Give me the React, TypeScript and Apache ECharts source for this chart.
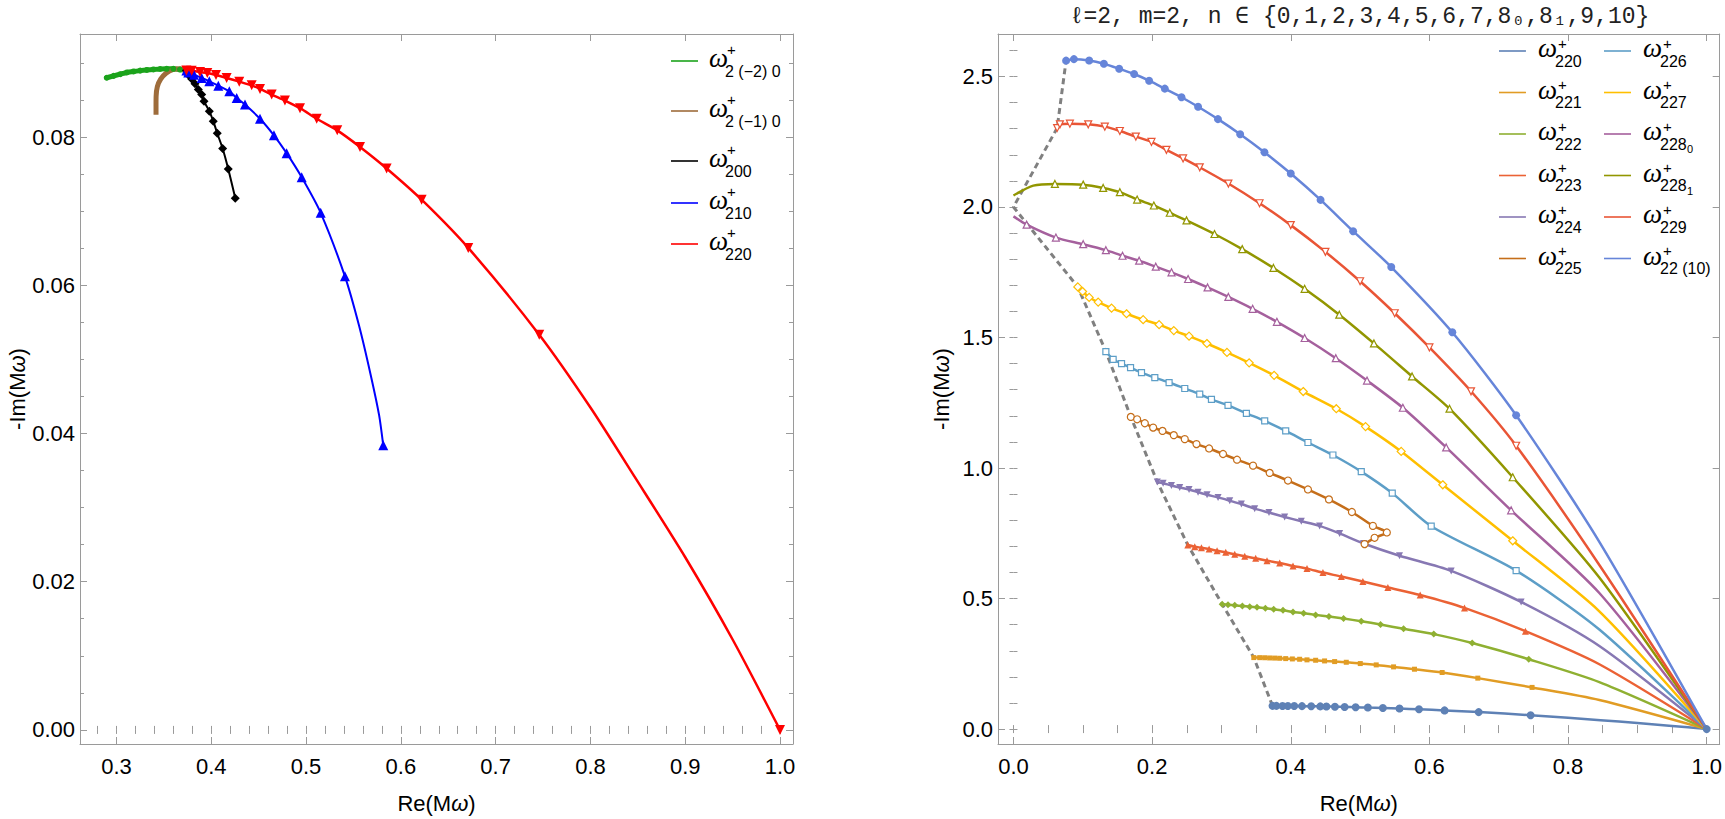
import React, { useEffect, useRef } from "react";
import * as echarts from "echarts";

const SANS = "'Liberation Sans', Arial, Helvetica, sans-serif";
const SERIF = "'Liberation Serif', 'Times New Roman', serif";
const MONO = "'Liberation Mono', 'DejaVu Sans Mono', monospace";
const FRAME = "#9a9a9a";

// ---------- axis ticks ----------
const leftXTicks = [0.3, 0.4, 0.5, 0.6, 0.7, 0.8, 0.9, 1.0];
const leftYTicks = [0, 0.02, 0.04, 0.06, 0.08];
const rightXTicks = [0, 0.2, 0.4, 0.6, 0.8, 1.0];
const rightYTicks = [0, 0.5, 1.0, 1.5, 2.0, 2.5];

const TITLE = "ℓ=2, m=2, n ∈ {0,1,2,3,4,5,6,7,8₀,8₁,9,10}";

// ---------- LEFT PANEL data: [Re(Mω), -Im(Mω), sampled point (1) / curve only (0)] ----------
const w2m20 = [
  [0.3737, 0.08896, 1], [0.367, 0.0891, 1], [0.36, 0.0892, 1], [0.353, 0.0892, 1],
  [0.346, 0.08918, 1], [0.339, 0.08912, 1], [0.332, 0.08905, 1], [0.325, 0.08896, 1],
  [0.318, 0.08885, 1], [0.311, 0.08871, 1], [0.304, 0.08848, 1], [0.297, 0.08825, 1],
  [0.2897, 0.088, 1],
];
const w2m10 = [
  [0.3737, 0.08896, 1], [0.367, 0.0892, 1], [0.3593, 0.0891, 1], [0.3522, 0.0886, 1],
  [0.3466, 0.0878, 1], [0.3431, 0.0868, 1], [0.3418, 0.0855, 1], [0.3417, 0.0842, 1],
  [0.3417, 0.083, 1],
];
const w200 = [
  [0.3737, 0.08896, 1], [0.3757, 0.0884, 1], [0.3793, 0.08783, 1], [0.3828, 0.0872, 1],
  [0.3863, 0.0864, 1], [0.3899, 0.08572, 1], [0.3923, 0.08483, 1], [0.3979, 0.08349, 1],
  [0.4021, 0.08214, 1], [0.4063, 0.0805, 1], [0.412, 0.07844, 1], [0.4179, 0.07567, 1],
  [0.4253, 0.07174, 1],
];
const w210 = [
  [0.3737, 0.08896, 1], [0.3757, 0.08871, 1], [0.3818, 0.0884, 1], [0.3899, 0.08797, 1],
  [0.3979, 0.08751, 1], [0.4074, 0.08693, 1], [0.419, 0.08617, 1], [0.4268, 0.08528, 1],
  [0.4356, 0.08438, 1], [0.4514, 0.08247, 1], [0.4661, 0.08023, 1], [0.4795, 0.07782, 1],
  [0.4954, 0.07456, 1], [0.5154, 0.06977, 1], [0.541, 0.0612, 1], [0.556, 0.0545, 0],
  [0.568, 0.048, 0], [0.577, 0.0425, 0], [0.5814, 0.0384, 1],
];
const w220 = [
  [0.3737, 0.08896, 1], [0.3793, 0.08894, 1], [0.3881, 0.08876, 1], [0.3958, 0.08863, 1],
  [0.405, 0.08836, 1], [0.4162, 0.08797, 1], [0.4295, 0.08747, 1], [0.4426, 0.08697, 1],
  [0.4514, 0.08649, 1], [0.4637, 0.08573, 1], [0.4777, 0.08492, 1], [0.4936, 0.08389, 1],
  [0.5112, 0.08247, 1], [0.5329, 0.0809, 1], [0.5569, 0.07866, 1], [0.585, 0.07576, 1],
  [0.6219, 0.07155, 1], [0.6711, 0.06504, 1], [0.746, 0.05332, 1], [0.8, 0.0435, 0],
  [0.8469, 0.0341, 0], [0.9, 0.0233, 0], [0.95, 0.0122, 0], [1.0, 0.0, 1],
];

// ---------- RIGHT PANEL data ----------
const w221 = [
  [0.3467, 0.2739, 1], [0.3552, 0.2737, 1], [0.3624, 0.2733, 1], [0.3696, 0.2725, 1],
  [0.3768, 0.272, 1], [0.384, 0.2713, 1], [0.3927, 0.27, 1], [0.4023, 0.2687, 1],
  [0.4128, 0.2675, 1], [0.4234, 0.2652, 1], [0.4359, 0.2637, 1], [0.4488, 0.2611, 1],
  [0.4633, 0.2586, 1], [0.4801, 0.256, 1], [0.5003, 0.251, 1], [0.5233, 0.2459, 1],
  [0.5483, 0.2383, 1], [0.5785, 0.2294, 1], [0.6184, 0.2167, 1], [0.6698, 0.1952, 1],
  [0.7481, 0.1597, 1], [0.8451, 0.1115, 0], [1.0, 0.0, 0],
];
const w222 = [
  [0.3011, 0.4783, 1], [0.3095, 0.4767, 1], [0.3192, 0.474, 1], [0.3302, 0.4717, 1],
  [0.3408, 0.4691, 1], [0.3513, 0.4664, 1], [0.3634, 0.4626, 1], [0.3754, 0.4588, 1],
  [0.3888, 0.455, 1], [0.4032, 0.4489, 1], [0.4186, 0.4436, 1], [0.4359, 0.4375, 1],
  [0.4551, 0.431, 1], [0.4762, 0.4234, 1], [0.5017, 0.4131, 1], [0.5295, 0.4006, 1],
  [0.5627, 0.3842, 1], [0.6063, 0.3638, 1], [0.6617, 0.3295, 1], [0.7433, 0.2675, 1],
  [0.8451, 0.18, 0], [1.0, 0.0, 0],
];
const w223 = [
  [0.2515, 0.7051, 1], [0.2615, 0.6985, 1], [0.2712, 0.6947, 1], [0.2822, 0.6897, 1],
  [0.2937, 0.6832, 1], [0.3062, 0.6771, 1], [0.3192, 0.6695, 1], [0.3336, 0.6619, 1],
  [0.3494, 0.6543, 1], [0.3657, 0.6452, 1], [0.384, 0.6364, 1], [0.4032, 0.625, 1],
  [0.4234, 0.6147, 1], [0.4464, 0.5995, 1], [0.4729, 0.5843, 1], [0.504, 0.5653, 1],
  [0.5401, 0.5425, 1], [0.5867, 0.5135, 1], [0.6506, 0.4641, 1], [0.7385, 0.3751, 1],
  [0.8451, 0.2484, 0], [1.0, 0.0, 0],
];
const w224 = [
  [0.2075, 0.9468, 1], [0.2159, 0.9419, 1], [0.2279, 0.9331, 1], [0.2399, 0.9255, 1],
  [0.2533, 0.9179, 1], [0.2663, 0.9077, 1], [0.2793, 0.8977, 1], [0.2951, 0.8875, 1],
  [0.312, 0.8749, 1], [0.3288, 0.862, 1], [0.348, 0.8445, 1], [0.3686, 0.8293, 1],
  [0.3912, 0.8125, 1], [0.4152, 0.7962, 1], [0.4416, 0.7784, 1], [0.4705, 0.7494, 1],
  [0.505, 0.711, 1], [0.5569, 0.6642, 1], [0.6314, 0.606, 1], [0.7323, 0.4869, 1],
  [0.8451, 0.3181, 0], [1.0, 0.0, 0],
];
const w225 = [
  [0.1693, 1.1959, 1], [0.1784, 1.1867, 1], [0.1895, 1.1715, 1], [0.2015, 1.1549, 1],
  [0.215, 1.1423, 1], [0.2313, 1.1259, 1], [0.2471, 1.1107, 1], [0.264, 1.0917, 1],
  [0.2822, 1.075, 1], [0.3023, 1.0537, 1], [0.3225, 1.032, 1], [0.3456, 1.0092, 1],
  [0.3696, 0.9814, 1], [0.396, 0.9521, 1], [0.4248, 0.9179, 1], [0.4551, 0.8799, 1],
  [0.4882, 0.8316, 1], [0.5185, 0.7784, 1], [0.5386, 0.7532, 1], [0.5209, 0.7328, 1],
  [0.5065, 0.7087, 1],
];
const w226 = [
  [0.1333, 1.4463, 1], [0.1438, 1.4162, 1], [0.1559, 1.3998, 1], [0.1689, 1.3846, 1],
  [0.1847, 1.3656, 1], [0.2039, 1.3465, 1], [0.2245, 1.3275, 1], [0.2471, 1.3047, 1],
  [0.2687, 1.283, 1], [0.2856, 1.2629, 1], [0.3095, 1.2401, 1], [0.336, 1.2096, 1],
  [0.3624, 1.1804, 1], [0.3927, 1.1423, 1], [0.4248, 1.0978, 1], [0.4608, 1.0499, 1],
  [0.5017, 0.9864, 1], [0.5464, 0.9039, 1], [0.6026, 0.7772, 1], [0.7251, 0.6071, 1],
  [0.8451, 0.3816, 0], [1.0, 0.0, 0],
];
const w227 = [
  [0.0928, 1.6939, 1], [0.0997, 1.6763, 1], [0.1092, 1.6535, 1], [0.1222, 1.6356, 1],
  [0.1415, 1.6128, 1], [0.1631, 1.5911, 1], [0.1871, 1.5683, 1], [0.2101, 1.5493, 1],
  [0.2313, 1.5265, 1], [0.2533, 1.5051, 1], [0.279, 1.477, 1], [0.308, 1.443, 1],
  [0.34, 1.403, 1], [0.376, 1.355, 1], [0.418, 1.293, 1], [0.4657, 1.2272, 1],
  [0.5079, 1.1587, 1], [0.5593, 1.0636, 1], [0.6193, 0.9358, 1], [0.7202, 0.7213, 1],
  [0.8451, 0.4512, 0], [1.0, 0.0, 0],
];
const w2280 = [
  [0.0, 1.964, 0], [0.019, 1.9323, 1], [0.0612, 1.8828, 1], [0.1006, 1.8574, 1],
  [0.1333, 1.8346, 1], [0.1573, 1.8132, 1], [0.1813, 1.7942, 1], [0.2053, 1.7714, 1],
  [0.228, 1.7497, 1], [0.2519, 1.7242, 1], [0.28, 1.6919, 1], [0.31, 1.6553, 1],
  [0.345, 1.6098, 1], [0.38, 1.5601, 1], [0.42, 1.4981, 1], [0.465, 1.4207, 1],
  [0.51, 1.3352, 1], [0.5617, 1.2309, 1], [0.6242, 1.0788, 1], [0.7179, 0.838, 1],
  [0.8451, 0.5212, 0], [1.0, 0.0, 0],
];
const w2281 = [
  [0.0, 2.0439, 0], [0.0286, 2.0818, 0], [0.0598, 2.0882, 1], [0.1006, 2.0856, 1],
  [0.1294, 2.073, 1], [0.1535, 2.0567, 1], [0.1784, 2.0285, 1], [0.2025, 2.0057, 1],
  [0.2255, 1.9779, 1], [0.2496, 1.9487, 1], [0.29, 1.8965, 1], [0.33, 1.8385, 1],
  [0.375, 1.7665, 1], [0.42, 1.6864, 1], [0.47, 1.5874, 1], [0.52, 1.4774, 1],
  [0.575, 1.3509, 1], [0.629, 1.2272, 1], [0.7202, 0.9647, 1], [0.8451, 0.5805, 0],
  [1.0, 0.0, 0],
];
const w229 = [
  [0.063, 2.3024, 1], [0.067, 2.3165, 1], [0.0814, 2.319, 1], [0.1078, 2.3165, 1],
  [0.1318, 2.3077, 1], [0.1535, 2.291, 1], [0.1765, 2.2697, 1], [0.1991, 2.2492, 1],
  [0.2207, 2.2187, 1], [0.2447, 2.186, 1], [0.2687, 2.1518, 1], [0.31, 2.0898, 1],
  [0.355, 2.0142, 1], [0.4, 1.9305, 1], [0.45, 1.828, 1], [0.5, 1.7155, 1],
  [0.55, 1.593, 1], [0.6, 1.462, 1], [0.66, 1.294, 1], [0.7251, 1.0853, 1],
  [0.8451, 0.6288, 0], [1.0, 0.0, 0],
];
const w2210 = [
  [0.0759, 2.5606, 1], [0.0872, 2.5663, 1], [0.1092, 2.5611, 1], [0.1304, 2.5485, 1],
  [0.1525, 2.5295, 1], [0.1741, 2.5093, 1], [0.1957, 2.4838, 1], [0.2183, 2.4534, 1],
  [0.2424, 2.4204, 1], [0.2663, 2.3838, 1], [0.295, 2.3364, 1], [0.327, 2.2788, 1],
  [0.362, 2.2098, 1], [0.4, 2.1281, 1], [0.443, 2.0271, 1], [0.49, 1.9072, 1],
  [0.545, 1.77, 1], [0.633, 1.52, 1], [0.7251, 1.2021, 1], [0.8451, 0.7174, 0],
  [1.0, 0.0, 0],
];
// Schwarzschild starting points joined by the dashed line
const startPoints = [
  [0.3737, 0.089], [0.3467, 0.2739], [0.3011, 0.4783], [0.2515, 0.7051], [0.2075, 0.9468],
  [0.1693, 1.1959], [0.1333, 1.4463], [0.0928, 1.6939], [0.0, 2.0], [0.063, 2.3024],
  [0.0759, 2.5606],
];

const LEFT_LABELS = ["2 (−2) 0", "2 (−1) 0", "200", "210", "220"];
const LEFT_DATA = [w2m20, w2m10, w200, w210, w220];
const RIGHT_LABELS = ["220", "221", "222", "223", "224", "225", "226", "227", "228|0", "228|1", "229", "22 (10)"];
const RIGHT_DATA = [w220, w221, w222, w223, w224, w225, w226, w227, w2280, w2281, w229, w2210];

// ---------- styles ----------
const LEFT_STYLE = [
  { color: "#1ba31b", width: 5, symbol: "circle", size: 6, rotate: 0 },
  { color: "#9e6c3b", width: 5, symbol: "none", size: 0, rotate: 0 },
  { color: "#000000", width: 2, symbol: "diamond", size: 9, rotate: 0 },
  { color: "#0000ff", width: 2, symbol: "triangle", size: 10, rotate: 0 },
  { color: "#ff0000", width: 2.5, symbol: "triangle", size: 10, rotate: 180 },
];
const PALETTE = ["#5E81B5", "#E19C24", "#8FB032", "#EB6235", "#8778B3", "#C56E1A",
  "#5D9EC7", "#FFBF00", "#A5609D", "#929600", "#E95536", "#6685D9"];
const RIGHT_MARK = [
  { symbol: "circle", size: 8, rotate: 0, open: false },
  { symbol: "rect", size: 5, rotate: 0, open: false },
  { symbol: "diamond", size: 7, rotate: 0, open: false },
  { symbol: "triangle", size: 7, rotate: 0, open: false },
  { symbol: "triangle", size: 7, rotate: 180, open: false },
  { symbol: "circle", size: 7, rotate: 0, open: true },
  { symbol: "rect", size: 6, rotate: 0, open: true },
  { symbol: "diamond", size: 8, rotate: 0, open: true },
  { symbol: "triangle", size: 7, rotate: 0, open: true },
  { symbol: "triangle", size: 7, rotate: 0, open: true },
  { symbol: "triangle", size: 7, rotate: 180, open: true },
  { symbol: "circle", size: 8, rotate: 0, open: false },
];

function steps(from: number, to: number, step: number) {
  const out: number[] = [];
  for (let v = from; v <= to + 1e-9; v += step) out.push(Math.round(v * 10000) / 10000);
  return out;
}

function frameAxes(isX: boolean, gridIndex: number, min: number, max: number, major: number[],
  minor: number[], fmt: (v: number) => string, name: string, nameGap: number) {
  const posA = isX ? "bottom" : "left";
  const posB = isX ? "top" : "right";
  const base = { type: "value", gridIndex, min, max, splitLine: { show: false }, silent: true };
  const tickStyle = { color: FRAME, width: 1 };
  const line = { show: true, onZero: false, lineStyle: { color: FRAME, width: 1 } };
  return [
    {
      ...base, position: posA, axisLine: line,
      axisTick: { show: true, inside: true, length: 7, customValues: major, lineStyle: tickStyle },
      axisLabel: { show: true, customValues: major, formatter: fmt, margin: isX ? 11 : 5, fontSize: 22, fontFamily: SANS, color: "#000" },
      name, nameLocation: "middle", nameGap,
      nameTextStyle: { fontSize: 22, fontFamily: SANS, color: "#000", rich: { i: { fontStyle: "italic", fontSize: 22, fontFamily: SANS, color: "#000" } } },
    },
    { ...base, position: posA, axisLine: { show: false }, axisTick: { show: true, inside: true, length: 4, customValues: minor, lineStyle: tickStyle }, axisLabel: { show: false } },
    { ...base, position: posB, axisLine: line, axisTick: { show: true, inside: true, length: 7, customValues: major, lineStyle: tickStyle }, axisLabel: { show: false } },
    { ...base, position: posB, axisLine: { show: false }, axisTick: { show: true, inside: true, length: 4, customValues: minor, lineStyle: tickStyle }, axisLabel: { show: false } },
  ];
}

function toData(pts: number[][]) {
  return pts.map((p) => (p[2] ? [p[0], p[1]] : { value: [p[0], p[1]], symbol: "none" }));
}

function legendEls(labels: string[], colors: string[], lineX: number, textX: number, ys: number[], plusDx: number, plusDy: number, subDx: number, subDy: number) {
  const els: any[] = [];
  labels.forEach((lab, i) => {
    const y = ys[i];
    els.push({ type: "line", silent: true, shape: { x1: lineX, y1: y, x2: lineX + 27, y2: y }, style: { stroke: colors[i], lineWidth: 1.6 } });
    els.push({ type: "text", silent: true, x: textX, y: y - 3, style: { text: "ω", fontSize: 27, fontFamily: SERIF, fontStyle: "italic", fill: "#000", align: "left", verticalAlign: "middle" } });
    els.push({ type: "text", silent: true, x: textX + plusDx, y: y + plusDy, style: { text: "+", fontSize: 15, fontFamily: SANS, fill: "#000", align: "left", verticalAlign: "middle" } });
    const parts = lab.split("|");
    els.push({ type: "text", silent: true, x: textX + subDx, y: y + subDy, style: { text: parts[0], fontSize: 16, fontFamily: SANS, fill: "#000", align: "left", verticalAlign: "middle" } });
    if (parts[1]) {
      els.push({ type: "text", silent: true, x: textX + subDx + 27, y: y + subDy + 5, style: { text: parts[1], fontSize: 11, fontFamily: SANS, fill: "#000", align: "left", verticalAlign: "middle" } });
    }
  });
  return els;
}

function buildOption() {
  const series: any[] = [];
  LEFT_DATA.forEach((pts, i) => {
    const s = LEFT_STYLE[i];
    series.push({
      type: "line", xAxisIndex: 0, yAxisIndex: 0, data: toData(pts), silent: true, smooth: 0.25,
      symbol: s.symbol, symbolSize: s.size, symbolRotate: s.rotate,
      lineStyle: { color: s.color, width: s.width, cap: i === 1 ? "butt" : "round" },
      itemStyle: { color: s.color, borderWidth: 0 },
    });
  });
  series.push({
    type: "line", xAxisIndex: 4, yAxisIndex: 4, data: startPoints, symbol: "none", silent: true,
    lineStyle: { color: "#808080", width: 3, type: [6, 4] },
  });
  RIGHT_DATA.forEach((pts, i) => {
    const m = RIGHT_MARK[i];
    const c = PALETTE[i];
    series.push({
      type: "line", xAxisIndex: 4, yAxisIndex: 4, data: toData(pts), silent: true, smooth: 0.25,
      symbol: m.symbol, symbolSize: m.size, symbolRotate: m.rotate,
      lineStyle: { color: c, width: 2.5 },
      itemStyle: m.open ? { color: "#ffffff", borderColor: c, borderWidth: 1.2 } : { color: c, borderWidth: 0 },
    });
  });

  const f1 = (v: number) => v.toFixed(1);
  const f2 = (v: number) => v.toFixed(2);
  const xAxis = [
    ...frameAxes(true, 0, 0.2615, 1.0137, leftXTicks, steps(0.28, 1.0, 0.02), f1, "Re(M{i|ω})", 48),
    ...frameAxes(true, 1, -0.0223, 1.0187, rightXTicks, steps(0, 1.0, 0.05), f1, "Re(M{i|ω})", 48),
  ];
  const yAxis = [
    ...frameAxes(false, 0, -0.0019, 0.0939, leftYTicks, steps(0, 0.09, 0.005), f2, "-Im(M{i|ω})", 47),
    ...frameAxes(false, 1, -0.0571, 2.6626, rightYTicks, steps(0, 2.6, 0.1), f1, "-Im(M{i|ω})", 46),
  ];

  const graphic = [
    ...legendEls(LEFT_LABELS, LEFT_STYLE.map((s) => s.color), 671, 709, [61, 111, 161, 203, 244], 18, -12, 16, 10),
    ...legendEls(RIGHT_LABELS.slice(0, 6), PALETTE.slice(0, 6), 1499, 1538, [51, 92.5, 134, 175.5, 217, 258.5], 20, -8, 17, 10),
    ...legendEls(RIGHT_LABELS.slice(6), PALETTE.slice(6), 1604, 1643, [51, 92.5, 134, 175.5, 217, 258.5], 20, -8, 17, 10),
    { type: "text", silent: true, x: 1359.5, y: 17, style: { text: TITLE, fontSize: 23, fontFamily: MONO, fill: "#222", align: "center", verticalAlign: "middle" } },
  ];

  return {
    animation: false,
    backgroundColor: "#ffffff",
    grid: [
      { left: 80, top: 34, width: 713, height: 714 },
      { left: 998, top: 34, width: 723, height: 715 },
    ],
    xAxis,
    yAxis,
    series,
    graphic,
  };
}

export default function App() {
  const ref = useRef<HTMLDivElement>(null);
  useEffect(() => {
    const chart = echarts.init(ref.current as HTMLDivElement, null, { renderer: "svg" });
    chart.setOption(buildOption() as any);
    return () => chart.dispose();
  }, []);
  return (
    <div
      ref={ref}
      style={{ position: "absolute", left: 0, top: 0, width: 1725, height: 819, background: "#fff" }}
    />
  );
}
